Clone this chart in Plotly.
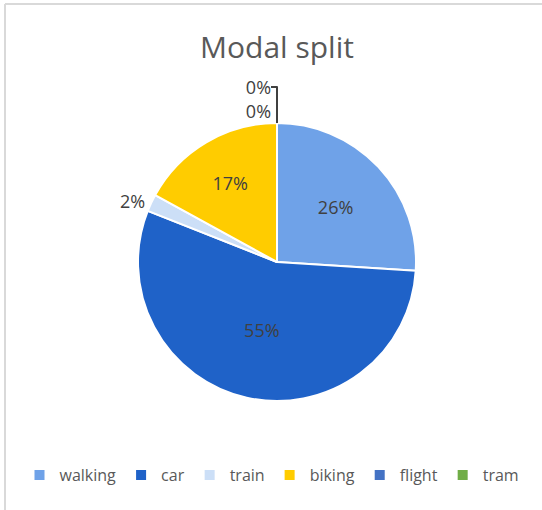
import plotly.graph_objects as go

labels = ["walking", "car", "train", "biking", "flight", "tram"]
values = [26, 55, 2, 17, 0, 0]
colors = ["#6FA2E8", "#1F62C8", "#CCDFF7", "#FFCC00", "#4472C4", "#70AD47"]
text_pos = ["inside", "inside", "outside", "inside", "outside", "outside"]

W, H = 542, 510
cx, cy, R = 277, 262, 139

fig = go.Figure(go.Pie(
    labels=labels,
    values=values,
    sort=False,
    direction="clockwise",
    rotation=0,
    marker=dict(colors=colors, line=dict(color="white", width=2)),
    texttemplate="%{percent:.0%}",
    textposition=text_pos,
    insidetextorientation="horizontal",
    textfont=dict(family="Open Sans", size=18, color="#404040"),
    domain=dict(x=[(cx - R) / W, (cx + R) / W], y=[(H - cy - R) / H, (H - cy + R) / H]),
    showlegend=True,
    automargin=False,
))

fig.update_layout(
    width=W, height=H,
    margin=dict(l=0, r=0, t=0, b=0),
    paper_bgcolor="white",
    plot_bgcolor="white",
    font=dict(family="Open Sans", color="#595959"),
    title=dict(text="Modal split", x=cx / W, xanchor="center", y=1 - 47 / H, yanchor="middle",
               font=dict(family="Open Sans", size=30, color="#595959")),
    legend=dict(orientation="h", x=272 / W, xanchor="center", y=1 - 475 / H, yanchor="middle",
                font=dict(family="Open Sans", size=16, color="#595959")),
    shapes=[
        dict(type="line", xref="paper", yref="paper", x0=5 / W, x1=1.0, y0=1 - 4 / H, y1=1 - 4 / H,
             line=dict(color="#D9D9D9", width=2)),
        dict(type="line", xref="paper", yref="paper", x0=5 / W, x1=5 / W, y0=0, y1=1 - 4 / H,
             line=dict(color="#D9D9D9", width=2)),
    ],
)

fig.write_html("out.html", config={"displayModeBar": False},
               post_script="document.body.style.margin='0';")
